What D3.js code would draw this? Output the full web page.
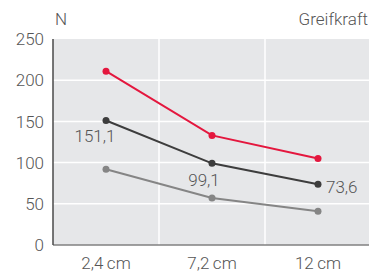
<!DOCTYPE html>
<html>
<head>
<meta charset="utf-8">
<script src="https://cdn.jsdelivr.net/npm/d3@7"></script>
<style>
body { margin: 0; background: #fff; }
text { font-family: Roboto, "Open Sans", sans-serif; font-weight: 300; }
</style>
</head>
<body>
<div id="chart"></div>
<script>
var width = 369;
var height = 275;

var categories = ["2,4\u2009cm", "7,2\u2009cm", "12\u2009cm"];
var yTicks = [0, 50, 100, 150, 200, 250];
var redValues = [211, 133, 105];
var darkValues = [151.1, 99.1, 73.6];
var greyValues = [92, 57, 41];
var darkLabels = ["151,1", "99,1", "73,6"];

var pLeft = 53, pRight = 371, pTop = 39, pBottom = 245;

var svg = d3.select("#chart")
    .append("svg")
    .attr("width", width)
    .attr("height", height);

var x = d3.scaleBand()
    .domain(categories)
    .range([pLeft, pRight]);

var y = d3.scaleLinear()
    .domain([0, 250])
    .range([pBottom, pTop]);

svg.append("rect")
    .attr("x", pLeft)
    .attr("y", pTop)
    .attr("width", pRight - pLeft)
    .attr("height", pBottom - pTop)
    .attr("fill", "#e6e7e9");

// horizontal grid
svg.selectAll(".hgrid")
    .data(yTicks.slice(1, -1))
    .enter()
    .append("line")
    .attr("x1", pLeft)
    .attr("x2", pRight)
    .attr("y1", function(d) { return y(d); })
    .attr("y2", function(d) { return y(d); })
    .attr("stroke", "#fff")
    .attr("stroke-width", 1.5);

// vertical grid between bands
svg.selectAll(".vgrid")
    .data(categories.slice(1))
    .enter()
    .append("line")
    .attr("x1", function(d) { return x(d); })
    .attr("x2", function(d) { return x(d); })
    .attr("y1", pTop)
    .attr("y2", pBottom)
    .attr("stroke", "#fff")
    .attr("stroke-width", 1.5);

// axes
svg.append("line")
    .attr("x1", pLeft).attr("x2", pRight)
    .attr("y1", pBottom).attr("y2", pBottom)
    .attr("stroke", "#808080").attr("stroke-width", 1.5);

svg.append("line")
    .attr("x1", pLeft).attr("x2", pLeft)
    .attr("y1", pTop).attr("y2", pBottom)
    .attr("stroke", "#4a4a4a").attr("stroke-width", 1.5);

svg.selectAll(".ylab")
    .data(yTicks)
    .enter()
    .append("text")
    .attr("x", 44)
    .attr("y", function(d) { return y(d); })
    .attr("dy", "0.36em")
    .attr("text-anchor", "end")
    .attr("font-size", 17)
    .attr("fill", "#555")
    .text(function(d) { return d; });

svg.selectAll(".xlab")
    .data(categories)
    .enter()
    .append("text")
    .attr("x", function(d) { return x(d) + x.bandwidth() / 2; })
    .attr("y", 269)
    .attr("text-anchor", "middle")
    .attr("font-size", 17)
    .attr("fill", "#555")
    .text(function(d) { return d; });

svg.append("text")
    .attr("x", 55).attr("y", 25)
    .attr("font-size", 17).attr("fill", "#555")
    .text("N");

svg.append("text")
    .attr("x", 368).attr("y", 25)
    .attr("text-anchor", "end")
    .attr("font-size", 17).attr("fill", "#555")
    .text("Greifkraft");

var line = d3.line()
    .x(function(d, i) { return x(categories[i]) + x.bandwidth() / 2; })
    .y(function(d) { return y(d); });

function series(values, color) {
    svg.append("path")
        .datum(values)
        .attr("fill", "none")
        .attr("stroke", color)
        .attr("stroke-width", 2)
        .attr("d", line);
    svg.selectAll(null)
        .data(values)
        .enter()
        .append("circle")
        .attr("cx", function(d, i) { return x(categories[i]) + x.bandwidth() / 2; })
        .attr("cy", function(d) { return y(d); })
        .attr("r", 3.5)
        .attr("fill", color);
}

series(greyValues, "#858585");
series(darkValues, "#3d3d3d");
series(redValues, "#e4173e");

var labelPos = [[-11, 15, "middle"], [-8, 17, "middle"], [8, 3, "start"]];
svg.selectAll(".vlab")
    .data(darkValues)
    .enter()
    .append("text")
    .attr("x", function(d, i) { return x(categories[i]) + x.bandwidth() / 2 + labelPos[i][0]; })
    .attr("y", function(d, i) { return y(d) + labelPos[i][1]; })
    .attr("dy", "0.36em")
    .attr("text-anchor", function(d, i) { return labelPos[i][2]; })
    .attr("font-size", 17)
    .attr("fill", "#555")
    .text(function(d, i) { return darkLabels[i]; });
</script>
</body>
</html>
